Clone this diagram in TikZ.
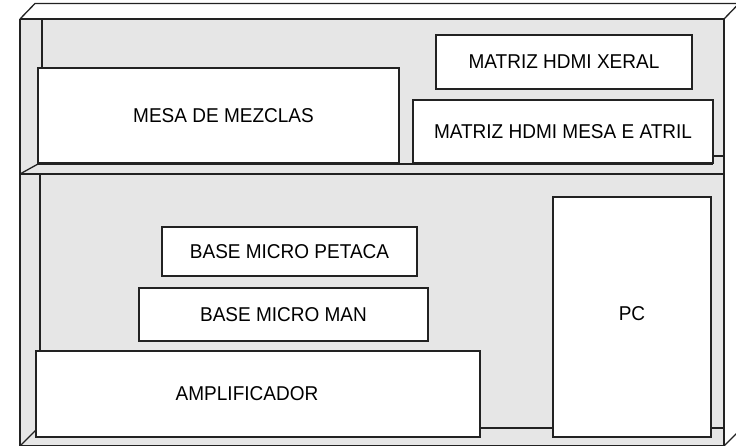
\documentclass[tikz,border=0pt]{standalone}
\usepackage{fontspec}
\setmainfont{Liberation Sans}
\definecolor{cabgray}{HTML}{E6E6E6}
\definecolor{edge}{HTML}{222222}
\tikzset{
  cab/.style={draw=edge, line width=1.3pt},
  lbl/.style={font=\fontsize{20}{24}\selectfont\addfontfeature{FakeStretch=0.95}},
  box/.style={draw=edge, line width=1.3pt, fill=white, inner sep=0pt, outer sep=0pt, anchor=north west, lbl},
}
\begin{document}
\begin{tikzpicture}[x=1pt,y=-1pt]
\useasboundingbox (0,0) rectangle (736,446);
\begin{scope}
\clip (0,0) rectangle (736,446);
% front face gray
\fill[cabgray] (20,19) rectangle (724,446);
% top face
\fill[white] (20,19) -- (35,3.5) -- (740,3.5) -- (724,19) -- cycle;
\draw[cab] (20,19) -- (35,3.5) -- (740,3.5);
\draw[cab] (724,19) -- (739,3.5);
\draw[cab] (20,19) -- (724,19);
\draw[cab] (20,19) -- (20,446);
\draw[cab] (724,19) -- (724,446);
\draw[cab] (20,445.5) -- (724,445.5);
% upper compartment inner side
\draw[cab] (42,19) -- (42,100);
% shelf
\draw[cab] (20,174) -- (38,164);
\draw[cab] (38,164) -- (713,164);
\draw[cab] (713,156) -- (724,156);
\draw[cab] (20,174) -- (724,174);
% lower compartment inner side
\draw[cab] (40,174) -- (40,400);
% floor
\draw[cab] (20,446) -- (36,430);
\draw[cab] (36,428) -- (724,428);
\draw[cab] (724,446) -- (740,430);
\end{scope}
% equipment
\node[box, minimum width=361pt, minimum height=95pt, label={[xshift=5pt, lbl]center:MESA DE MEZCLAS}] (mesa) at (38,68) {};
\node[box, minimum width=256pt, minimum height=54pt] (xeral) at (436,35) {MATRIZ HDMI XERAL};
\node[box, minimum width=300pt, minimum height=63pt] (atril) at (413,100) {MATRIZ HDMI MESA E ATRIL};
\node[box, minimum width=255pt, minimum height=49pt] (petaca) at (162,227) {BASE MICRO PETACA};
\node[box, minimum width=289pt, minimum height=53pt] (man) at (139,288) {BASE MICRO MAN};
\node[box, minimum width=444pt, minimum height=86pt, label={[xshift=-11pt, lbl]center:AMPLIFICADOR}] (amp) at (36,351) {};
\node[box, minimum width=158pt, minimum height=240pt, label={[yshift=3pt, lbl]center:PC}] (pc) at (553,197) {};
\end{tikzpicture}
\end{document}
